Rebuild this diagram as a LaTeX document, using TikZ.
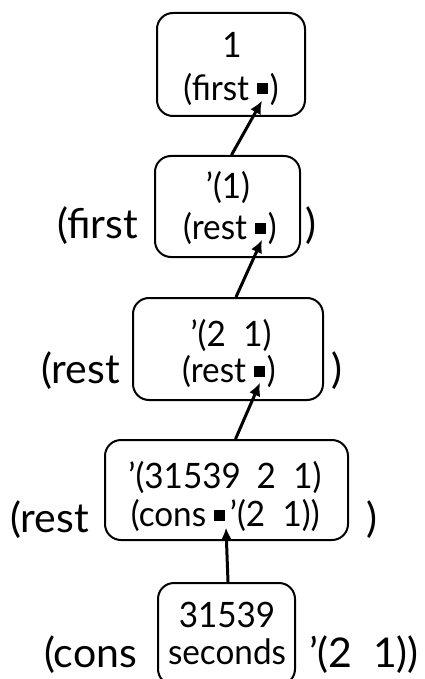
\documentclass[tikz,border=0pt]{standalone}
\usepackage{fontspec}
\setmainfont{Lato}
\newfontfamily\narrowfont{Lato}[FakeStretch=0.95]
\usetikzlibrary{arrows.meta}
\tikzset{
  box/.style={draw, line width=2pt, rounded corners=16pt, inner sep=0pt},
  small/.style={inner sep=0pt, font=\narrowfont\fontsize{35}{38}\selectfont},
  big/.style={inner sep=0pt, font=\fontsize{41}{44}\selectfont},
  hole/.style={fill=black, inner sep=0pt, minimum size=11pt},
  ptr/.style={line width=3pt, -{Latex[length=13pt,width=12pt]}},
}
\begin{document}
\begin{tikzpicture}[x=1pt,y=-1pt]
\useasboundingbox (0,0) rectangle (424,679);
\clip (0,0) rectangle (424,679);
% boxes
\node[box, minimum width=148pt, minimum height=103pt] (b1) at (231,64.5) {};
\node[box, minimum width=145pt, minimum height=101pt] (b2) at (227.5,206.5) {};
\node[box, minimum width=190pt, minimum height=102pt] (b3) at (228,349) {};
\node[box, minimum width=243pt, minimum height=100pt] (b4) at (226.5,490) {};
\node[box, minimum width=137pt, minimum height=102pt] (b5) at (226.5,634) {};
% box 1
\node[small] (t1) at (232,45) {1};
\node[hole] (s1) at (262,89) {};
\node[small, anchor=east] (l1) at ([xshift=-7pt]s1.west) {(first};
\node[small, anchor=west] (r1) at ([xshift=2pt]s1.east) {)};
% box 2
\node[small] (t2) at (228,187) {’(1)};
\node[hole] (s2) at (260,228) {};
\node[small, anchor=east] (l2) at ([xshift=-7pt]s2.west) {(rest};
\node[small, anchor=west] (r2) at ([xshift=2pt]s2.east) {)};
% box 3
\node[small] (t3) at (231,335) {’(2\hspace{0.5em}1)};
\node[hole] (s3) at (259,371) {};
\node[small, anchor=east] (l3) at ([xshift=-7pt]s3.west) {(rest};
\node[small, anchor=west] (r3) at ([xshift=2pt]s3.east) {)};
% box 4
\node[small] (t4) at (225,477) {’(31539\hspace{0.45em}2\hspace{0.5em}1)};
\node[hole] (s4) at (219,515) {};
\node[small, anchor=east] (l4) at ([xshift=-7pt]s4.west) {(cons};
\node[small, anchor=west] (r4) at ([xshift=5pt]s4.east) {’(2\hspace{0.5em}1))};
% box 5
\node[small] (t5) at (227,615) {31539};
\node[small] (u5) at (227,652) {seconds};
% outer expressions
\node[big, anchor=west] (o2l) at (57,226) {(first};
\node[big, anchor=west] (o2r) at (305,226) {)};
\node[big, anchor=west] (o3l) at (41,371) {(rest};
\node[big, anchor=west] (o3r) at (331,371) {)};
\node[big, anchor=west] (o4l) at (10,520) {(rest};
\node[big, anchor=west] (o4r) at (366,520) {)};
\node[big, anchor=west] (o5l) at (44,655) {(cons};
\node[big, anchor=west] (o5r) at (309,655) {’(2\hspace{0.5em}1))};
% pointers
\draw[ptr] ([xshift=4pt]b2.north) -- ([yshift=-6pt]s1.south);
\draw[ptr] ([xshift=8pt]b3.north) -- ([xshift=2pt,yshift=-6pt]s2.south);
\draw[ptr] ([xshift=9pt]b4.north) -- ([xshift=1pt,yshift=-6pt]s3.south);
\draw[ptr] ([xshift=1.5pt]b5.north) -- ([xshift=7pt,yshift=-7pt]s4.south);
\end{tikzpicture}
\end{document}
